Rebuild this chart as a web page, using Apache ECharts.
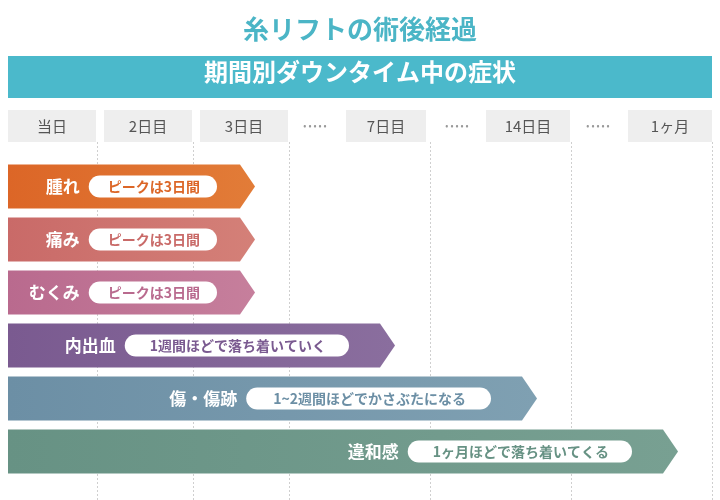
<!DOCTYPE html>
<html><head><meta charset="utf-8">
<script src="https://cdn.jsdelivr.net/npm/echarts@6/dist/echarts.min.js"></script>
<style>html,body{margin:0;padding:0;background:#fff}#main{width:720px;height:500px}</style>
</head><body><div id="main"></div>
<script>
var FONT = '"Noto Sans CJK JP", sans-serif'
// 列見出し
var headerLabels = ['当日', '2日目', '3日目', '7日目', '14日目', '1ヶ月']
var headerStart = [8, 104, 200, 346, 486, 628]
var headerEnd = [96, 192, 288, 426, 570, 712]
var gapDots = [315, 457, 598]
var gridLines = [97, 193, 289, 430, 571, 712]
// 症状
var symptoms = ['腫れ', '痛み', 'むくみ', '内出血', '傷・傷跡', '違和感']
var notes = ['ピークは3日間', 'ピークは3日間', 'ピークは3日間', '1週間ほどで落ち着いていく', '1~2週間ほどでかさぶたになる', '1ヶ月ほどで落ち着いてくる']
var barEnd = [255, 255, 255, 395, 537, 678]
var colors = [['#DC6627', '#E27C38'], ['#C96A68', '#D48078'], ['#B96A8E', '#C67F9C'], ['#7A5A90', '#8A6E9E'], ['#6C8FA5', '#7FA0B2'], ['#679284', '#78A092']]

var LS = 2
var ctx = document.createElement('canvas').getContext('2d')
function textW(t, size) {
  ctx.font = 'bold ' + size + 'px ' + FONT
  return ctx.measureText(t).width + t.length * LS
}

var myChart = echarts.init(document.getElementById('main'))
var option = {
  animation: false,
  grid: { left: 0, right: 0, top: 160, bottom: 22 },
  xAxis: { type: 'value', min: 0, max: 720, show: false },
  yAxis: { type: 'category', inverse: true, data: symptoms, show: false },
  graphic: [
    { type: 'text', left: 'center', top: 16, style: { text: '糸リフトの術後経過', fill: '#4BB5C6', font: 'bold 26px ' + FONT } },
    { type: 'rect', shape: { x: 8, y: 56, width: 704, height: 42 }, style: { fill: '#4BB9CB' } },
    { type: 'text', left: 'center', top: 60, style: { text: '期間別ダウンタイム中の症状', fill: '#fff', font: 'bold 24px ' + FONT } }
  ],
  series: [
    {
      type: 'custom',
      data: gridLines.map(function (x) { return [x] }),
      silent: true,
      renderItem: function (params, api) {
        var x = Math.round(api.coord([api.value(0), 0])[0]) + 0.5
        return { type: 'line', shape: { x1: x, y1: 142, x2: x, y2: 500 }, style: { stroke: '#cfcfcf', lineDash: [2, 2], lineWidth: 1 } }
      }
    },
    {
      type: 'custom',
      data: headerLabels.map(function (l, i) { return [headerStart[i], headerEnd[i], l] }),
      silent: true,
      renderItem: function (params, api) {
        var a = api.coord([api.value(0), 0])[0], b = api.coord([api.value(1), 0])[0]
        return { type: 'group', children: [
          { type: 'rect', shape: { x: a, y: 110, width: b - a, height: 32 }, style: { fill: '#EEEEEE' } },
          { type: 'text', style: { x: (a + b) / 2, y: 126, text: api.value(2), fill: '#555', font: '15px ' + FONT, align: 'center', verticalAlign: 'middle' } }
        ] }
      }
    },
    {
      type: 'custom',
      data: gapDots.map(function (x) { return [x] }),
      silent: true,
      renderItem: function (params, api) {
        var x = api.coord([api.value(0), 0])[0]
        return { type: 'text', style: { x: x, y: 126, text: '• • • • •', fill: '#999', font: '9px ' + FONT, align: 'center', verticalAlign: 'middle' } }
      }
    },
    {
      type: 'custom',
      data: symptoms.map(function (s, i) { return [barEnd[i], i] }),
      silent: true,
      renderItem: function (params, api) {
        var i = params.dataIndex
        var tip = api.coord([api.value(0), i])
        var x0 = api.coord([8, i])[0]
        var cy = tip[1], h = 44, tx = tip[0]
        var c = colors[i]
        var pw = textW(notes[i], 14) + 22
        var pr = tx - (i < 3 ? 38 : 46), pl = pr - pw
        return { type: 'group', children: [
          { type: 'polygon', shape: { points: [[x0, cy - h / 2], [tx - 15, cy - h / 2], [tx, cy], [tx - 15, cy + h / 2], [x0, cy + h / 2]] },
            style: { fill: new echarts.graphic.LinearGradient(0, 0, 1, 0, [{ offset: 0, color: c[0] }, { offset: 1, color: c[1] }]) } },
          { type: 'rect', shape: { x: pl, y: cy - 11, width: pw, height: 22, r: 11 }, style: { fill: '#fff' } },
          { type: 'text', style: { x: pl + pw / 2 + LS / 2, y: cy, text: notes[i], fill: c[0], font: 'bold 14px ' + FONT, letterSpacing: LS, align: 'center', verticalAlign: 'middle' } },
          { type: 'text', style: { x: pl - 9, y: cy, text: symptoms[i], fill: '#fff', font: 'bold 17px ' + FONT, letterSpacing: 1, align: 'right', verticalAlign: 'middle' } }
        ] }
      }
    }
  ]
}
myChart.setOption(option)
window.addEventListener('resize', function () { myChart.resize() })
</script></body></html>
